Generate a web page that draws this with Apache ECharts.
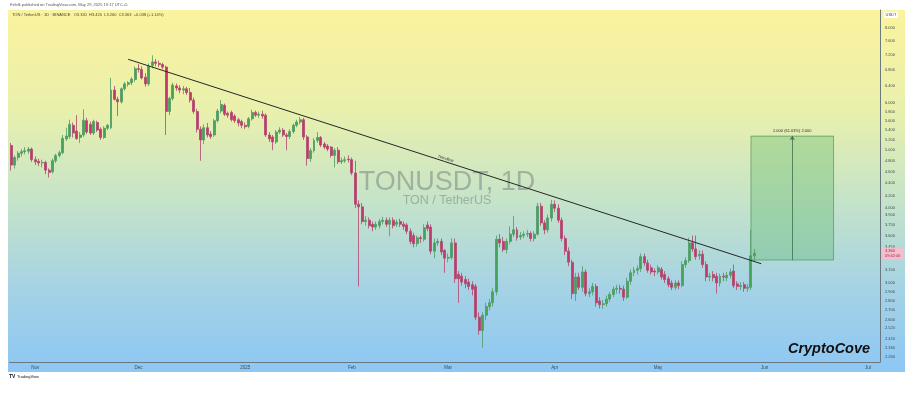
<!DOCTYPE html>
<html><head><meta charset="utf-8">
<script src="https://cdn.jsdelivr.net/npm/echarts@6/dist/echarts.min.js"></script>
<style>html,body{margin:0;padding:0;background:#fff}#c{width:914px;height:399px}</style>
</head><body><div id="c"></div>
<script>
// ---------- data ----------
const startDate = [2024, 9, 25];     // first candle (UTC y, m0, d)
const dayCount = 253;                // visible daily slots (Oct 25 2024 .. Jul 4 2025)
const monthLabels = {'2024-11':'Nov','2024-12':'Dec','2025-01':'2025','2025-02':'Feb','2025-03':'Mar','2025-04':'Apr','2025-05':'May','2025-06':'Jun','2025-07':'Jul'};
const priceTicks = [8.0,7.6,7.2,6.8,6.4,6.0,5.8,5.6,5.4,5.2,5.0,4.8,4.6,4.4,4.2,4.0,3.9,3.75,3.6,3.45,3.15,3.0,2.9,2.8,2.7,2.6,2.52,2.42,2.34,2.26];

// candles: [open, close, low, high]
const oct2024 = [
[5.09,4.72,4.62,5.14],[4.72,4.86,4.66,4.90],[4.86,4.94,4.80,4.98],[4.94,4.97,4.88,5.02],
[4.97,4.99,4.92,5.06],[4.98,5.02,4.93,5.06],[5.02,4.82,4.78,5.05]];
const nov2024 = [
[4.82,4.78,4.72,4.88],[4.79,4.76,4.70,4.84],[4.76,4.77,4.68,4.82],[4.77,4.63,4.56,4.80],
[4.63,4.59,4.50,4.66],[4.60,4.80,4.57,4.84],[4.80,4.90,4.76,4.93],[4.90,4.95,4.86,4.99],
[4.95,5.23,4.92,5.30],[5.22,5.28,5.18,5.45],[5.27,5.52,5.22,5.62],[5.50,5.34,5.25,5.56],
[5.38,5.23,5.20,5.72],[5.25,5.30,5.14,5.36],[5.30,5.61,5.26,5.85],[5.60,5.36,5.32,5.66],
[5.52,5.34,5.30,5.58],[5.34,5.58,5.30,5.62],[5.56,5.40,5.36,5.60],[5.42,5.25,5.20,5.46],
[5.25,5.44,5.22,5.48],[5.44,5.50,5.40,5.53],[5.45,6.30,5.42,6.60],[6.30,6.08,6.05,6.40],
[6.08,6.02,5.70,6.14],[6.02,6.33,5.98,6.36],[6.33,6.45,6.28,6.50],[6.44,6.48,6.38,6.52],
[6.48,6.57,6.42,6.62],[6.56,6.84,6.50,6.90]];
const dec2024 = [
[6.84,6.82,6.74,6.96],[6.82,6.60,6.56,6.90],[6.62,6.45,6.38,6.72],[6.45,6.90,6.40,6.98],
[6.92,7.02,6.85,7.20],[7.02,6.98,6.90,7.10],[6.98,6.95,6.88,7.05],[6.95,6.88,6.82,7.00],
[6.88,5.80,5.30,6.92],[5.80,6.10,5.72,6.14],[6.10,6.42,6.05,6.48],[6.40,6.35,6.28,6.46],
[6.35,6.30,6.22,6.42],[6.30,6.33,6.20,6.40],[6.33,6.24,6.18,6.38],[6.24,6.06,6.00,6.35],
[6.06,5.80,5.75,6.12],[5.80,5.42,5.35,5.86],[5.42,5.20,4.80,5.48],[5.20,5.45,5.12,5.52],
[5.45,5.30,5.25,5.55],[5.32,5.27,5.22,5.38],[5.30,5.60,5.26,5.64],[5.60,5.81,5.56,5.86],
[5.81,5.96,5.76,6.06],[5.94,5.74,5.70,5.98],[5.76,5.72,5.66,5.80],[5.78,5.62,5.58,5.82],
[5.70,5.60,5.55,5.74],[5.62,5.55,5.48,5.66],[5.58,5.50,5.44,5.62]];
const jan2025 = [
[5.50,5.47,5.42,5.56],[5.48,5.64,5.44,5.68],[5.64,5.78,5.60,5.84],[5.78,5.72,5.68,5.82],
[5.72,5.74,5.66,5.80],[5.74,5.70,5.64,5.82],[5.72,5.30,5.26,5.76],[5.30,5.22,5.16,5.36],
[5.26,5.16,5.00,5.30],[5.16,5.36,5.12,5.40],[5.36,5.40,5.32,5.46],[5.40,5.30,5.26,5.44],
[5.30,5.27,5.00,5.34],[5.27,5.37,5.22,5.42],[5.37,5.50,5.33,5.54],[5.50,5.57,5.46,5.62],
[5.57,5.62,5.52,5.68],[5.62,5.26,5.20,5.66],[5.26,4.84,4.71,5.30],[4.84,4.99,4.78,5.04],
[4.99,5.19,4.95,5.24],[5.19,5.25,5.14,5.36],[5.25,5.10,5.06,5.28],[5.12,5.06,5.02,5.16],
[5.08,5.02,4.98,5.12],[5.06,4.90,4.86,5.08],[4.90,5.00,4.68,5.04],[5.00,4.78,4.74,5.06],
[4.78,4.80,4.74,4.86],[4.80,4.82,4.76,4.88],[4.83,4.82,4.77,4.90]];
const feb2025 = [
[4.82,4.58,4.54,4.86],[4.58,4.06,4.00,4.80],[4.06,4.02,2.96,4.12],[4.02,3.80,3.76,4.08],
[3.80,3.82,3.74,3.88],[3.82,3.74,3.70,3.86],[3.76,3.72,3.66,3.80],[3.72,3.76,3.68,3.80],
[3.74,3.80,3.70,3.84],[3.80,3.82,3.76,3.87],[3.82,3.76,3.72,3.86],[3.76,3.82,3.59,3.86],
[3.82,3.74,3.70,3.86],[3.76,3.79,3.72,3.83],[3.80,3.76,3.72,3.84],[3.76,3.73,3.68,3.80],
[3.75,3.66,3.62,3.78],[3.66,3.52,3.48,3.70],[3.60,3.49,3.44,3.64],[3.49,3.57,3.45,3.60],
[3.57,3.56,3.50,3.60],[3.55,3.71,3.52,3.76],[3.75,3.70,3.66,3.80],[3.72,3.39,3.35,3.76],
[3.39,3.50,3.30,3.56],[3.50,3.52,3.46,3.56],[3.52,3.38,3.34,3.56],[3.40,3.30,3.12,3.42]];
const mar2025 = [
[3.30,3.31,3.25,3.36],[3.31,3.50,3.28,3.56],[3.50,3.05,3.00,3.56],[3.10,3.05,2.78,3.14],
[3.08,3.01,2.97,3.12],[3.04,2.99,2.94,3.08],[3.01,2.96,2.92,3.05],[2.98,2.93,2.86,3.02],
[2.96,2.63,2.60,2.99],[2.63,2.50,2.46,2.68],[2.50,2.65,2.34,2.68],[2.65,2.74,2.60,2.78],
[2.74,2.78,2.70,2.82],[2.78,2.90,2.74,2.94],[2.90,3.55,2.86,3.60],[3.55,3.50,3.44,3.62],
[3.52,3.41,3.38,3.58],[3.41,3.52,3.36,3.56],[3.52,3.62,3.48,3.73],[3.62,3.68,3.58,3.88],
[3.68,3.57,3.53,3.72],[3.58,3.60,3.54,3.65],[3.60,3.62,3.56,3.66],[3.62,3.63,3.58,3.68],
[3.63,3.56,3.52,3.66],[3.56,3.62,3.52,3.66],[3.62,4.03,3.60,4.08],[4.03,3.78,3.74,4.08],
[3.78,3.68,3.62,3.82],[3.68,3.85,3.64,3.90],[3.85,4.06,3.80,4.13]];
const apr2025 = [
[4.06,4.00,3.94,4.12],[4.00,3.82,3.78,4.06],[3.82,3.56,3.52,3.86],[3.56,3.39,3.34,3.60],
[3.39,3.25,3.20,3.44],[3.25,2.88,2.82,3.28],[2.88,3.07,2.80,3.12],[3.07,2.95,2.92,3.12],
[2.95,3.13,2.90,3.20],[3.13,2.88,2.85,3.16],[2.88,2.90,2.84,2.94],[2.90,2.96,2.86,3.00],
[2.96,2.78,2.74,2.99],[2.80,2.76,2.72,2.84],[2.76,2.77,2.72,2.81],[2.77,2.82,2.74,2.86],
[2.82,2.87,2.79,2.90],[2.87,2.93,2.84,2.96],[2.93,2.94,2.88,2.98],[2.94,2.93,2.88,2.98],
[2.93,2.84,2.80,2.97],[2.84,3.02,2.82,3.06],[3.02,3.12,2.98,3.16],[3.12,3.15,3.08,3.19],
[3.15,3.17,3.10,3.21],[3.17,3.32,3.13,3.36],[3.32,3.24,3.20,3.36],[3.24,3.15,3.12,3.28],
[3.18,3.13,3.10,3.22],[3.14,3.13,3.08,3.17]];
const may2025 = [
[3.13,3.18,3.10,3.21],[3.16,3.07,3.04,3.19],[3.10,3.04,3.00,3.14],[3.05,2.98,2.95,3.08],
[3.00,2.95,2.92,3.03],[2.95,3.00,2.92,3.03],[3.00,2.97,2.93,3.03],[2.97,3.22,2.95,3.26],
[3.22,3.27,3.18,3.31],[3.27,3.50,3.24,3.57],[3.50,3.42,3.38,3.60],[3.42,3.32,3.28,3.60],
[3.33,3.35,3.28,3.40],[3.35,3.22,3.18,3.40],[3.22,3.07,3.02,3.26],[3.07,3.08,3.02,3.12],
[3.10,3.06,3.02,3.14],[3.08,3.00,2.88,3.12],[3.00,3.08,2.96,3.11],[3.08,3.07,3.02,3.12],
[3.06,3.09,3.02,3.13],[3.09,3.13,3.05,3.17],[3.14,2.97,2.94,3.22],[2.99,2.96,2.92,3.02],
[2.96,2.97,2.92,3.01],[2.98,2.94,2.90,3.01],[2.94,2.95,2.90,2.99],[2.95,3.33,2.92,3.68],
[3.33,3.363,3.26,3.42]];

const currentPrice = 3.363;
const trendStart = ['2024-11-28', 7.09];
const trendEnd = ['2025-05-31', 3.23];
const positionFrom = '2025-05-28', positionTo = '2025-06-21', positionMid = '2025-06-09';
const positionEntry = 3.277, positionTarget = 5.277;

const headerLine1 = 'Fxfolk published on TradingView.com, May 29, 2025 19:17 UTC+5';
const headerLine2 = 'TON / TetherUS · 1D · BINANCE   O3.320  H3.420  L3.260  C3.363  +0.038 (+1.14%)';

// ---------- build ----------
const dates = [];
const t0 = Date.UTC(startDate[0], startDate[1], startDate[2]);
for (let i = 0; i < dayCount; i++) dates.push(new Date(t0 + i * 86400000).toISOString().slice(0, 10));
const candles = [].concat(oct2024, nov2024, dec2024, jan2025, feb2025, mar2025, apr2025, may2025);

const diff = positionTarget - positionEntry;
const posText = diff.toFixed(3) + ' (' + (diff / positionEntry * 100).toFixed(2) + '%) ' + diff.toFixed(3).replace('.', ',');

const chart = echarts.init(document.getElementById('c'), null, {renderer: 'canvas'});
const axisColor = '#6b7880';
chart.setOption({
  animation: false,
  backgroundColor: '#ffffff',
  textStyle: {fontFamily: 'Liberation Sans, Arial, sans-serif'},
  grid: {left: 9.5, right: 34, top: 10, bottom: 37},
  xAxis: {
    type: 'category', data: dates, boundaryGap: true,
    axisLine: {show: true, lineStyle: {color: axisColor, width: 1}},
    axisTick: {show: false}, splitLine: {show: false},
    axisLabel: {
      interval: (i, v) => v.slice(8) === '01' && monthLabels[v.slice(0, 7)] !== undefined,
      formatter: v => monthLabels[v.slice(0, 7)] || '',
      fontSize: 4.5, color: '#3f4a52', margin: 3
    }
  },
  yAxis: {
    type: 'log', logBase: 10, position: 'right', min: 2.214, max: 8.57,
    splitLine: {show: false}, axisTick: {show: false}, minorTick: {show: false},
    axisLine: {show: true, lineStyle: {color: axisColor, width: 1}},
    axisLabel: {customValues: priceTicks, formatter: v => Number(v).toFixed(3), fontSize: 4, color: '#3f4a52', margin: 5}
  },
  series: [{
    type: 'candlestick', data: candles, barWidth: '72%',
    itemStyle: {color: '#45a35c', color0: '#c3386a', borderColor: '#4f9a64', borderColor0: '#b3466f', borderWidth: 0.8},
    markArea: {
      silent: true,
      itemStyle: {color: 'rgba(86,180,96,0.33)', borderColor: 'rgba(60,140,70,0.75)', borderWidth: 0.8},
      label: {show: true, position: 'top', fontSize: 4, color: '#333', distance: 3},
      data: [[{xAxis: positionFrom, yAxis: positionTarget, name: posText}, {xAxis: positionTo, yAxis: positionEntry}]]
    },
    markLine: {
      silent: true, symbol: ['none', 'none'], animation: false,
      data: [
        [{coord: trendStart, lineStyle: {color: '#262626', width: 1, type: 'solid'},
          label: {show: true, position: 'insideMiddleTop', formatter: 'Trendline', fontSize: 4, color: '#333', distance: 1}},
         {coord: trendEnd}],
        [{coord: [positionMid, positionEntry], symbol: 'none', lineStyle: {color: '#3f6f4c', width: 0.8, type: 'solid'}, label: {show: false}},
         {coord: [positionMid, positionTarget], symbol: 'arrow', symbolSize: 4}]
      ]
    }
  }, {
    type: 'line', data: [], silent: true,
    markLine: {
      silent: true, symbol: ['none', 'none'], animation: false,
      lineStyle: {color: 'rgba(0,0,0,0)', width: 0.1, type: 'solid'},
      label: {show: true, position: 'end', distance: 2, formatter: p => Number(p.value).toFixed(3) + '\n09:42:46',
              fontSize: 4, lineHeight: 5, color: '#b51d4c', backgroundColor: '#f2bfcd', padding: [1, 3], opacity: 1},
      data: [{yAxis: currentPrice}]
    }
  }],
  graphic: [
    {type: 'rect', z: -10, silent: true, shape: {x: 8, y: 10, width: 897, height: 362},
     style: {fill: {type: 'linear', x: 0, y: 0, x2: 0, y2: 1, colorStops: [
       {offset: 0, color: '#fbf39d'}, {offset: 0.28, color: '#e9f0ad'}, {offset: 0.52, color: '#c6e4c8'},
       {offset: 0.78, color: '#a4d2e6'}, {offset: 1, color: '#8dc7f4'}]}}},
    {type: 'text', z: -5, silent: true, x: 447, y: 183,
     style: {text: 'TONUSDT, 1D', fontSize: 27, fontFamily: 'Liberation Sans', fill: 'rgba(105,110,115,0.45)', align: 'center', verticalAlign: 'middle'}},
    {type: 'text', z: -5, silent: true, x: 447, y: 201,
     style: {text: 'TON / TetherUS', fontSize: 12.5, fontFamily: 'Liberation Sans', fill: 'rgba(105,110,115,0.45)', align: 'center', verticalAlign: 'middle'}},
    {type: 'text', z: 20, silent: true, x: 10, y: 5,
     style: {text: headerLine1, fontSize: 4, fill: '#555', verticalAlign: 'middle'}},
    {type: 'text', z: 20, silent: true, x: 12, y: 15,
     style: {text: headerLine2, fontSize: 4, fill: '#444', verticalAlign: 'middle'}},
    {type: 'rect', z: 20, silent: true, shape: {x: 884, y: 12, width: 14, height: 6, r: 1}, style: {fill: '#ffffff'}},
    {type: 'text', z: 21, silent: true, x: 891, y: 15,
     style: {text: 'USDT', fontSize: 4, fill: '#444', align: 'center', verticalAlign: 'middle'}},
    {type: 'text', z: 20, silent: true, x: 829, y: 349,
     style: {text: 'CryptoCove', fontSize: 14.5, fontWeight: 'bold', fontStyle: 'italic', fontFamily: 'Liberation Sans', fill: '#111', align: 'center', verticalAlign: 'middle'}},
    {type: 'text', z: 20, silent: true, x: 9, y: 377,
     style: {text: 'TV', fontSize: 5, fontWeight: 'bold', fill: '#131722', verticalAlign: 'middle'}},
    {type: 'text', z: 20, silent: true, x: 17, y: 377,
     style: {text: 'TradingView', fontSize: 4, fill: '#131722', verticalAlign: 'middle'}}
  ]
});
</script></body></html>
